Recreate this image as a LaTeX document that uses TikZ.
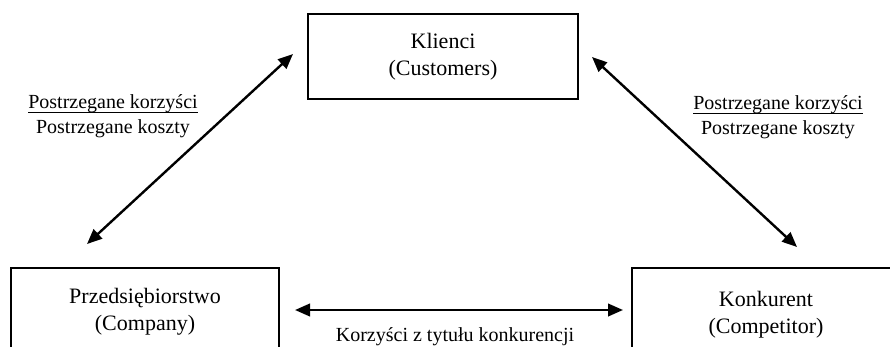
\documentclass[tikz,border=0pt]{standalone}
\usepackage{fontspec}
\setmainfont{Liberation Serif}
\usetikzlibrary{arrows.meta}
% underline set close to the baseline, ignoring descenders
\newcommand{\ulnear}[1]{\underline{\raisebox{0pt}[\height][2.2pt]{#1}}}
\begin{document}
\begin{tikzpicture}[x=1pt,y=-1pt,
  party/.style={draw=black,line width=2pt,align=center,inner sep=0pt,
    minimum width=268pt,font=\fontsize{22}{27}\selectfont},
  link/.style={line width=2.4pt,{Triangle[length=15pt,width=12.5pt]}-{Triangle[length=15pt,width=12.5pt]}},
  note/.style={align=center,font=\fontsize{20}{25}\selectfont,inner sep=0pt}]
  \useasboundingbox (0,0) rectangle (890,346);
  \clip (0,0) rectangle (890,346);

  % the three parties
  \node[party,minimum width=270pt,minimum height=85pt] (klienci) at (443,56.5)
    {Klienci\\(Customers)};
  \node[party,minimum height=87pt] (firma) at (145,311.5)
    {Przedsiębiorstwo\\(Company)};
  \node[party,minimum height=94pt] (konkurent) at (766,315)
    {Konkurent\\(Competitor)};

  % free ends of the relations
  \coordinate (a1) at (87,244);
  \coordinate (a2) at (293,54);
  \coordinate (b1) at (592,57);
  \coordinate (b2) at (797,247);
  \coordinate (c1) at (295,310);
  \coordinate (c2) at (623,310);

  \draw[link] (a1) -- (a2);
  \draw[link] (b1) -- (b2);
  \draw[link] (c1) -- (c2);

  % relation labels
  \node[note] (lewa) at (113,116)
    {\ulnear{Postrzegane korzyści}\\Postrzegane koszty};
  \node[note] (prawa) at (778,117.5)
    {\ulnear{Postrzegane korzyści}\\Postrzegane koszty};
  \node[note] (dolna) at (455,337) {Korzyści z tytułu konkurencji};
\end{tikzpicture}
\end{document}
